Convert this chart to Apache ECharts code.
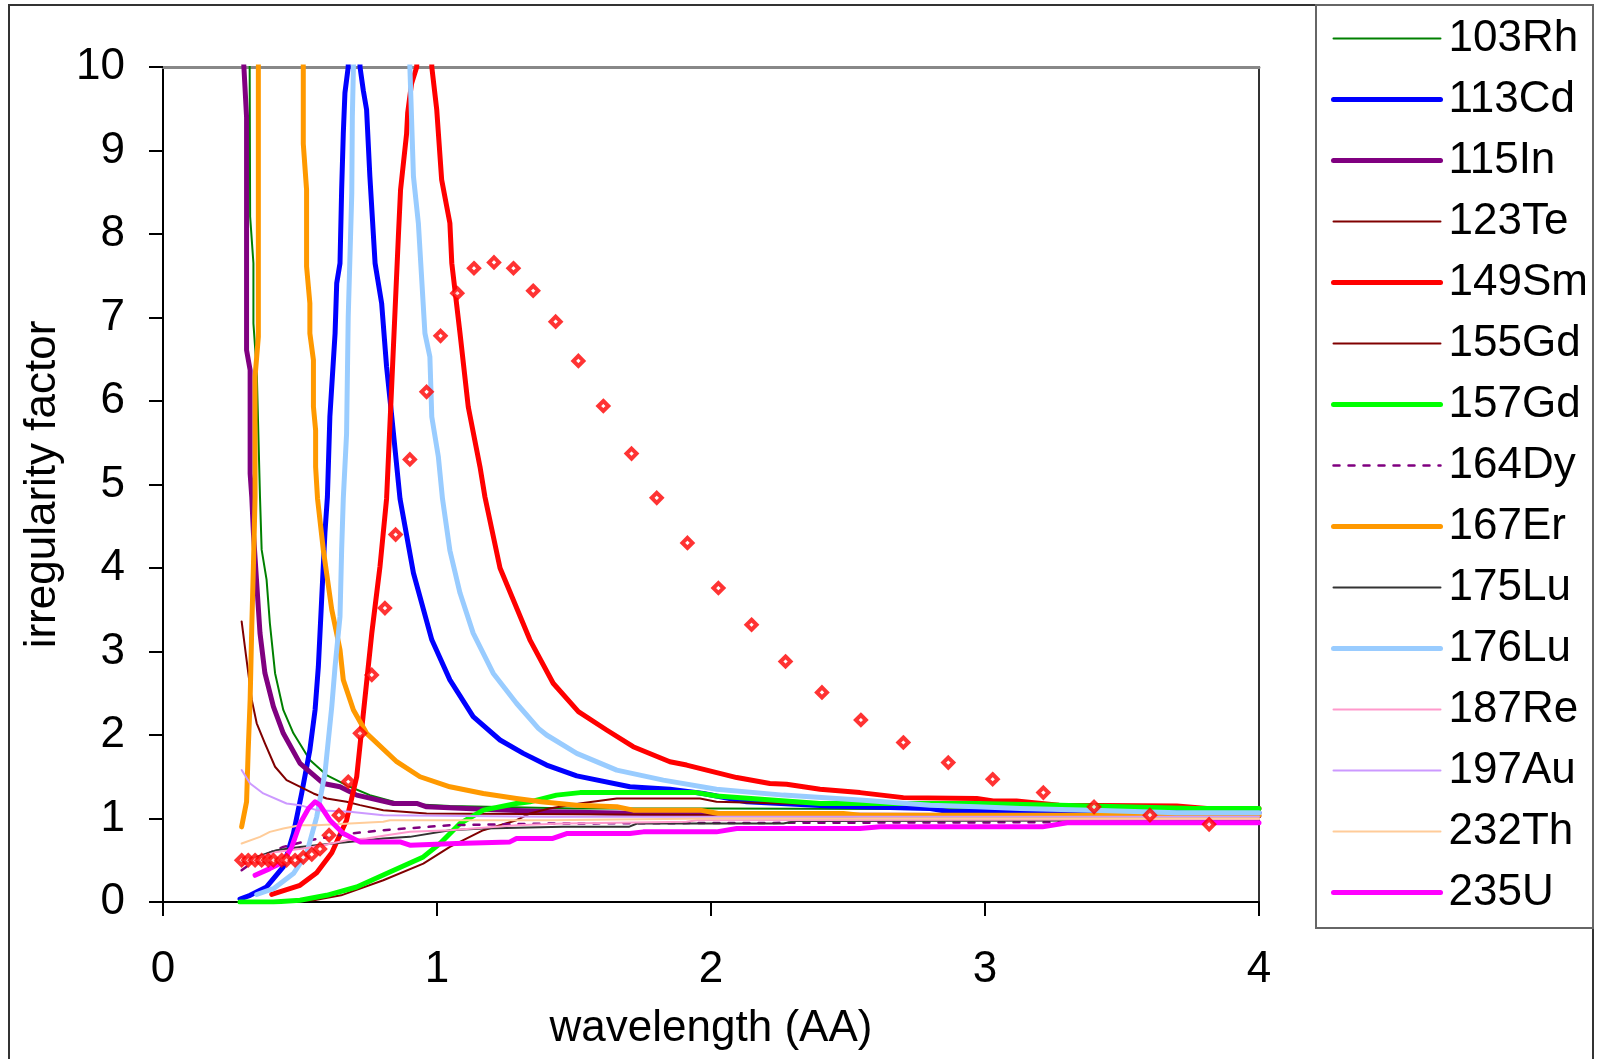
<!DOCTYPE html>
<html>
<head>
<meta charset="utf-8">
<script src="https://cdn.jsdelivr.net/npm/echarts@6/dist/echarts.min.js"></script>
<style>html,body{margin:0;padding:0;background:#fff;}#chart{width:1601px;height:1059px;}</style>
</head>
<body>
<div id="chart"></div>
<script>
// ---- data: [wavelength (AA), irregularity factor] ----
const rh103 = [[0.316,10.3],[0.318,8.21],[0.33,7.65],[0.33,6.93],[0.342,6.37],[0.354,4.85],[0.36,4.22],[0.378,3.86],[0.39,3.34],[0.409,2.74],[0.439,2.30],[0.476,2.02],[0.536,1.70],[0.597,1.52],[0.682,1.38],[0.755,1.28],[0.865,1.18],[1.047,1.15],[1.5,1.12],[2.0,1.12],[3.0,1.11],[4.0,1.10]];
const cd113 = [[0.281,0.036],[0.318,0.08],[0.378,0.18],[0.439,0.42],[0.476,0.82],[0.506,1.30],[0.536,1.82],[0.555,2.3],[0.567,2.82],[0.579,3.62],[0.591,4.42],[0.6,4.85],[0.609,5.81],[0.628,6.81],[0.634,7.41],[0.646,7.65],[0.652,8.53],[0.658,9.2],[0.664,9.69],[0.676,10],[0.698,20],[0.719,10],[0.731,9.72],[0.743,9.49],[0.755,8.69],[0.774,7.65],[0.798,7.17],[0.816,6.41],[0.835,5.81],[0.865,4.83],[0.914,3.94],[0.981,3.14],[1.047,2.66],[1.132,2.22],[1.23,1.94],[1.315,1.78],[1.40,1.64],[1.51,1.51],[1.704,1.38],[1.85,1.35],[1.972,1.30],[2.13,1.20],[2.434,1.15],[2.80,1.12],[2.872,1.08],[3.13,1.09],[3.3,1.07],[4.0,1.07]];
const in115 = [[0.292,10.2],[0.305,9.4],[0.305,6.61],[0.318,6.37],[0.318,5.13],[0.324,4.85],[0.33,4.42],[0.354,3.22],[0.372,2.74],[0.403,2.34],[0.439,2.02],[0.5,1.66],[0.585,1.42],[0.646,1.38],[0.707,1.28],[0.841,1.18],[0.926,1.18],[0.962,1.14],[1.169,1.11],[1.41,1.08],[1.9,1.05],[2.5,1.04],[4.0,1.03]];
const te123 = [[0.287,3.36],[0.305,2.90],[0.324,2.42],[0.342,2.14],[0.372,1.90],[0.409,1.62],[0.451,1.46],[0.512,1.36],[0.549,1.30],[0.597,1.24],[0.67,1.20],[0.719,1.16],[0.804,1.10],[0.962,1.06],[1.5,1.05],[2.5,1.03],[4.0,1.02]];
const sm149 = [[0.397,0.09],[0.5,0.2],[0.561,0.35],[0.616,0.59],[0.67,0.98],[0.707,1.5],[0.73,2.22],[0.762,3.22],[0.792,4.02],[0.816,4.83],[0.835,6.21],[0.859,7.97],[0.867,8.53],[0.889,9.2],[0.893,9.45],[0.907,9.8],[0.926,10],[0.955,20],[0.981,10],[0.999,9.49],[1.017,8.65],[1.047,8.13],[1.054,7.65],[1.084,6.81],[1.114,5.93],[1.157,5.21],[1.175,4.85],[1.23,4.0],[1.339,3.14],[1.424,2.62],[1.516,2.28],[1.619,2.06],[1.716,1.86],[1.85,1.68],[1.911,1.64],[2.094,1.49],[2.215,1.42],[2.276,1.41],[2.398,1.35],[2.544,1.31],[2.702,1.25],[2.97,1.24],[3.03,1.21],[3.115,1.21],[3.27,1.16],[3.70,1.15],[3.81,1.12],[4.0,1.12]];
const gd155 = [[0.28,0.0],[0.55,0.02],[0.65,0.08],[0.804,0.26],[0.95,0.46],[1.047,0.66],[1.169,0.86],[1.29,0.98],[1.339,1.06],[1.41,1.12],[1.52,1.18],[1.656,1.24],[1.96,1.24],[2.02,1.20],[2.26,1.18],[3.0,1.15],[4.0,1.12]];
const gd157 = [[0.281,0.0],[0.403,0.0],[0.5,0.02],[0.597,0.08],[0.707,0.18],[0.828,0.36],[0.95,0.54],[1.011,0.70],[1.084,0.94],[1.169,1.10],[1.29,1.18],[1.339,1.20],[1.436,1.28],[1.522,1.31],[1.947,1.31],[2.02,1.27],[2.398,1.18],[2.97,1.18],[3.27,1.16],[3.76,1.12],[4.0,1.12]];
const dy164 = [[0.287,0.38],[0.354,0.54],[0.439,0.66],[0.536,0.74],[0.682,0.82],[0.804,0.86],[1.047,0.92],[1.41,0.94],[2.5,0.95],[4.0,0.96]];
const er167 = [[0.287,0.90],[0.305,1.2],[0.311,1.82],[0.318,2.42],[0.324,3.30],[0.33,4.02],[0.336,4.85],[0.336,6.29],[0.348,6.77],[0.348,10],[0.43,20],[0.512,10],[0.512,9.08],[0.524,8.53],[0.524,7.61],[0.536,7.17],[0.536,6.81],[0.549,6.49],[0.549,5.93],[0.557,5.65],[0.557,5.21],[0.564,4.83],[0.585,4.22],[0.616,3.50],[0.646,3.02],[0.658,2.66],[0.695,2.30],[0.743,2.02],[0.853,1.68],[0.938,1.50],[1.047,1.38],[1.169,1.30],[1.29,1.24],[1.38,1.20],[1.51,1.16],[1.656,1.14],[1.716,1.10],[1.96,1.10],[2.027,1.06],[2.483,1.06],[2.544,1.04],[4.0,1.04]];
const lu175 = [[0.287,0.48],[0.414,0.62],[0.5,0.66],[0.621,0.70],[0.804,0.76],[0.901,0.78],[1.047,0.86],[1.169,0.88],[1.46,0.90],[1.70,0.90],[1.73,0.94],[2.264,0.94],[2.31,0.97],[4.0,0.98]];
const lu176 = [[0.342,0.09],[0.403,0.16],[0.476,0.34],[0.524,0.58],[0.561,1.02],[0.591,1.54],[0.616,2.34],[0.628,2.82],[0.646,3.42],[0.652,4.22],[0.658,4.83],[0.670,5.61],[0.676,7.01],[0.689,8.49],[0.691,9.4],[0.695,10],[0.80,25],[0.901,10],[0.914,8.69],[0.932,8.13],[0.956,6.81],[0.974,6.53],[0.981,5.81],[1.005,5.33],[1.02,4.83],[1.047,4.21],[1.084,3.70],[1.132,3.22],[1.205,2.74],[1.29,2.38],[1.37,2.08],[1.40,2.0],[1.51,1.78],[1.656,1.58],[1.826,1.46],[2.02,1.35],[2.264,1.28],[2.556,1.22],[2.80,1.16],[2.97,1.14],[3.128,1.12],[3.39,1.10],[3.70,1.07],[4.0,1.07]];
const re187 = [[0.287,0.44],[0.354,0.54],[0.414,0.60],[0.512,0.64],[0.585,0.68],[0.67,0.74],[0.743,0.76],[0.816,0.80],[0.901,0.84],[1.047,0.86],[1.29,0.92],[1.46,0.94],[1.91,0.96],[1.95,0.98],[4.0,0.99]];
const au197 = [[0.287,1.58],[0.318,1.42],[0.366,1.30],[0.451,1.18],[0.5,1.16],[0.561,1.10],[0.682,1.08],[0.804,1.04],[1.41,1.02],[4.0,1.02]];
const th232 = [[0.287,0.70],[0.354,0.78],[0.39,0.84],[0.439,0.88],[0.5,0.92],[0.561,0.92],[0.682,0.94],[0.804,0.96],[0.828,0.98],[1.41,0.98],[2.0,1.0],[4.0,1.0]];
const u235 = [[0.336,0.32],[0.39,0.40],[0.439,0.48],[0.47,0.66],[0.5,0.94],[0.531,1.12],[0.555,1.20],[0.573,1.16],[0.609,0.98],[0.658,0.82],[0.719,0.72],[0.865,0.72],[0.901,0.68],[1.07,0.70],[1.266,0.72],[1.29,0.76],[1.42,0.76],[1.473,0.82],[1.704,0.82],[1.753,0.84],[2.02,0.84],[2.094,0.88],[2.544,0.88],[2.617,0.90],[3.21,0.90],[3.30,0.95],[4.0,0.95]];
const dots = [[0.287,0.5],[0.311,0.5],[0.336,0.5],[0.36,0.5],[0.384,0.5],[0.403,0.5],[0.433,0.5],[0.451,0.5],[0.482,0.5],[0.512,0.535],[0.543,0.57],[0.573,0.635],[0.606,0.80],[0.642,1.04],[0.676,1.44],[0.719,2.02],[0.762,2.72],[0.81,3.52],[0.849,4.40],[0.901,5.30],[0.962,6.11],[1.013,6.78],[1.074,7.29],[1.135,7.59],[1.208,7.66],[1.279,7.59],[1.351,7.32],[1.433,6.95],[1.516,6.48],[1.607,5.94],[1.71,5.37],[1.802,4.84],[1.914,4.30],[2.027,3.76],[2.148,3.32],[2.272,2.88],[2.405,2.51],[2.547,2.18],[2.702,1.91],[2.866,1.67],[3.028,1.47],[3.213,1.31],[3.398,1.14],[3.602,1.04],[3.818,0.93]];

const seriesNames = ['103Rh','113Cd','115In','123Te','149Sm','155Gd','157Gd','164Dy','167Er','175Lu','176Lu','187Re','197Au','232Th','235U'];
const seriesData = [rh103, cd113, in115, te123, sm149, gd155, gd157, dy164, er167, lu175, lu176, re187, au197, th232, u235];
const xTicks = [0,1,2,3,4];
const yTicks = [0,1,2,3,4,5,6,7,8,9,10];

// styles
const colors = ['#008000','#0000FF','#800080','#800000','#FF0000','#800000','#00FF00','#800080','#FF9900','#333333','#99CCFF','#FF99CC','#CC99FF','#FFCC99','#FF00FF'];
const widths = [2,5,5,2,5,2,5,2.5,5,2,5,2,2,2,5];
const types  = ['solid','solid','solid','solid','solid','solid','solid',[6,9],'solid','solid','solid','solid','solid','solid','solid'];

const FONT = 'Liberation Sans, Arial, sans-serif';
const series = seriesNames.map((n,i)=>({
  name:n, type:'line', data:seriesData[i], symbol:'none', clip:true, smooth:false,
  lineStyle:{color:colors[i], width:widths[i], type:types[i], cap:'round', join:'round'},
  itemStyle:{color:colors[i]}, emphasis:{disabled:true}, z:2+i
}));
series.push({
  name:'calc', type:'scatter', data:dots, symbol:'diamond', symbolSize:10,
  itemStyle:{color:'#ffffff', borderColor:'#FF0000', borderWidth:4}, z:30, emphasis:{disabled:true}
});

const legendData = seriesNames.map((n,i)=>({
  name:n,
  itemStyle:{opacity:0},
  lineStyle:{color:colors[i], width:widths[i], type:types[i], cap:'round', opacity:1}
}));

const chart = echarts.init(document.getElementById('chart'), null, {renderer:'canvas'});
chart.setOption({
  animation:false,
  backgroundColor:'#ffffff',
  textStyle:{fontFamily:FONT},
  grid:{left:163, top:67, right:342, bottom:157, containLabel:false},
  xAxis:[{
    type:'value', min:xTicks[0], max:xTicks[xTicks.length-1], interval:1,
    name:'wavelength (AA)', nameLocation:'middle', nameGap:105,
    nameTextStyle:{fontSize:44, color:'#000', fontFamily:FONT},
    axisLine:{show:true, onZero:false, lineStyle:{color:'#000', width:2}},
    axisTick:{show:true, inside:false, length:14, lineStyle:{color:'#000', width:2}},
    axisLabel:{fontSize:44, color:'#000', margin:46, fontFamily:FONT},
    splitLine:{show:false}
  },{
    type:'value', position:'top', min:0, max:4, interval:1,
    axisLine:{show:true, onZero:false, lineStyle:{color:'#888', width:3}},
    axisTick:{show:false}, axisLabel:{show:false}, splitLine:{show:false}
  }],
  yAxis:[{
    type:'value', min:yTicks[0], max:yTicks[yTicks.length-1], interval:1,
    name:'irregularity factor', nameLocation:'middle', nameGap:92, nameRotate:90,
    nameTextStyle:{fontSize:44, color:'#000', fontFamily:FONT},
    axisLine:{show:true, onZero:false, lineStyle:{color:'#000', width:2}},
    axisTick:{show:true, inside:false, length:14, lineStyle:{color:'#000', width:2}},
    axisLabel:{fontSize:44, color:'#000', margin:38, fontFamily:FONT},
    splitLine:{show:false}
  },{
    type:'value', position:'right', min:0, max:10, interval:1,
    axisLine:{show:true, onZero:false, lineStyle:{color:'#333', width:2}},
    axisTick:{show:false}, axisLabel:{show:false}, splitLine:{show:false}
  }],
  legend:{
    data:legendData, orient:'vertical', left:1331, top:8, padding:0,
    itemWidth:107, itemHeight:14, itemGap:0, selectedMode:false,
    itemStyle:{opacity:0},
    textStyle:{fontSize:44, color:'#000', lineHeight:61, fontFamily:FONT, padding:[0,0,0,3]}
  },
  graphic:[
    {type:'rect', shape:{x:9, y:5, width:1584, height:1100}, style:{fill:null, stroke:'#333', lineWidth:2}, silent:true, z:100},
    {type:'rect', shape:{x:1316, y:5, width:277, height:923}, style:{fill:null, stroke:'#666', lineWidth:2}, silent:true, z:100}
  ],
  series:series
});
</script>
</body>
</html>
